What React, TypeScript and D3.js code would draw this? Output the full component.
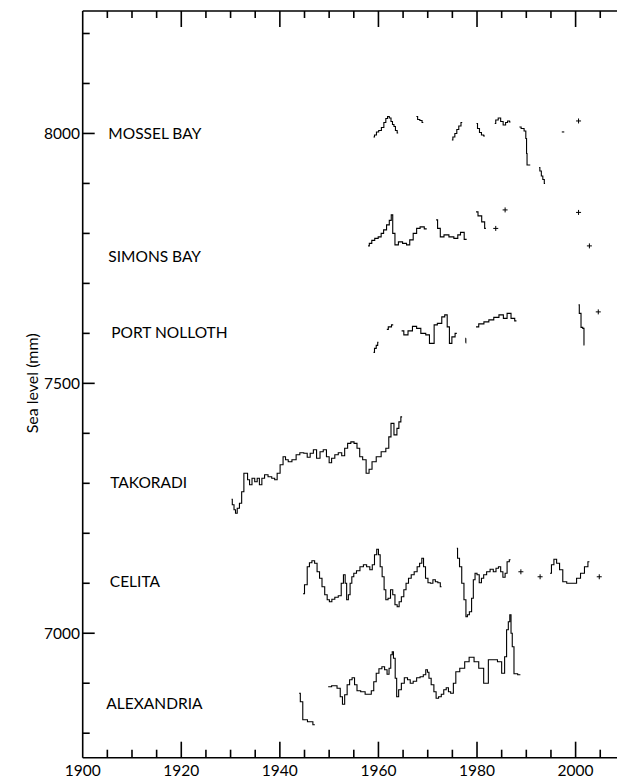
import { useEffect, useRef } from "react";
import * as d3 from "d3";

// [year, sea level mm] -- each inner array is a continuous piece of record
const mosselBay = [
  [[1959.0, 7993], [1959.4, 7997], [1959.8, 8003], [1960.3, 8006], [1960.9, 8012], [1961.3, 8022], [1961.7, 8030], [1962.0, 8034], [1962.4, 8031], [1962.7, 8024], [1963.0, 8018], [1963.3, 8014], [1963.6, 8006], [1964.0, 8001]],
  [[1967.7, 8034], [1968.2, 8028], [1968.6, 8026], [1969.1, 8022]],
  [[1974.9, 7987], [1975.3, 7993], [1975.7, 8000], [1976.1, 8008], [1976.5, 8015], [1977.0, 8022]],
  [[1979.9, 8020], [1980.3, 8010], [1980.7, 8002], [1981.1, 7997], [1981.6, 7995]],
  [[1983.6, 8020], [1984.0, 8027], [1984.6, 8031], [1985.0, 8024], [1985.6, 8017], [1986.0, 8022], [1986.4, 8025], [1986.8, 8023]],
  [[1988.6, 8013], [1989.3, 8010], [1989.8, 8005], [1990.0, 7990], [1990.1, 7960], [1990.2, 7937], [1990.8, 7937]],
  [[1992.6, 7932], [1992.9, 7925], [1993.2, 7915], [1993.5, 7908], [1993.8, 7900]],
  [[1997.2, 8003], [1997.7, 8003]],
];
const mosselBayPoints = [[2000.6, 8025]];

const simonsBay = [
  [[1957.9, 7775], [1958.4, 7780], [1958.9, 7786], [1959.6, 7790], [1960.3, 7793], [1960.8, 7800], [1961.3, 7807], [1962.0, 7817], [1962.4, 7826], [1962.8, 7837], [1963.0, 7800], [1963.7, 7777], [1964.4, 7783], [1965.4, 7780], [1966.0, 7777], [1966.7, 7787], [1967.4, 7800], [1968.1, 7810], [1968.8, 7813], [1969.8, 7809]],
  [[1971.7, 7827], [1972.3, 7810], [1972.8, 7793], [1973.8, 7797], [1974.8, 7793], [1975.8, 7790], [1976.4, 7797], [1976.9, 7802], [1977.9, 7788]],
  [[1979.8, 7843], [1980.6, 7835], [1981.3, 7823], [1981.8, 7810]],
];
const simonsBayPoints = [[1983.8, 7810], [1985.7, 7847], [2000.6, 7842], [2002.8, 7775]];

const portNolloth = [
  [[1959.0, 7562], [1959.4, 7570], [1959.7, 7576], [1960.0, 7582]],
  [[1961.7, 7608], [1962.3, 7613], [1963.0, 7617]],
  [[1964.7, 7605], [1965.6, 7597], [1966.4, 7605], [1967.4, 7614], [1968.1, 7610], [1969.1, 7600], [1970.1, 7597], [1970.6, 7580], [1971.2, 7580], [1971.4, 7617], [1972.5, 7620], [1973.2, 7633], [1973.7, 7637], [1974.2, 7613], [1974.6, 7580], [1975.2, 7593], [1975.9, 7600]],
  [[1977.7, 7581], [1977.75, 7590]],
  [[1979.8, 7613], [1980.9, 7619], [1981.9, 7623], [1982.9, 7627], [1983.9, 7632], [1985.0, 7637], [1985.7, 7630], [1986.5, 7640], [1987.3, 7630], [1988.0, 7625]],
  [[2000.6, 7657], [2000.9, 7640], [2001.3, 7612], [2001.6, 7610], [2001.8, 7577]],
];
const portNollothPoints = [[2004.6, 7643]];

const takoradi = [
  [[1930.2, 7268], [1930.5, 7257], [1930.9, 7247], [1931.1, 7240], [1931.6, 7250], [1932.0, 7260], [1932.5, 7283], [1932.9, 7320], [1933.3, 7320], [1933.6, 7307], [1934.1, 7297], [1934.6, 7310], [1935.2, 7303], [1935.6, 7310], [1936.1, 7297], [1936.6, 7310], [1937.2, 7317], [1938.0, 7313], [1938.7, 7310], [1939.2, 7307], [1939.7, 7320], [1940.4, 7337], [1940.9, 7353], [1941.4, 7347], [1942.0, 7343], [1942.9, 7347], [1943.7, 7357], [1944.4, 7361], [1945.3, 7360], [1945.8, 7352], [1946.5, 7360], [1947.1, 7367], [1947.8, 7350], [1948.5, 7363], [1949.1, 7367], [1949.8, 7353], [1950.2, 7341], [1950.8, 7350], [1951.5, 7357], [1952.2, 7361], [1952.9, 7355], [1953.4, 7370], [1954.1, 7380], [1954.7, 7383], [1955.4, 7380], [1955.9, 7370], [1956.5, 7353], [1957.1, 7347], [1957.9, 7320], [1958.3, 7328], [1959.1, 7343], [1960.0, 7353], [1961.1, 7363], [1961.9, 7370], [1962.3, 7393], [1962.8, 7420], [1963.5, 7397], [1964.0, 7410], [1964.3, 7423], [1964.8, 7433]],
];
const takoradiPoints: number[][] = [];

const celita = [
  [[1944.7, 7079], [1945.3, 7097], [1945.8, 7133], [1946.2, 7141], [1946.8, 7145], [1947.3, 7140], [1947.8, 7123], [1948.3, 7110], [1948.8, 7093], [1949.4, 7077], [1949.8, 7067], [1950.3, 7063], [1950.8, 7068], [1951.5, 7072], [1952.2, 7075], [1952.7, 7100], [1953.1, 7117], [1953.4, 7100], [1953.7, 7067], [1954.1, 7077], [1954.4, 7100], [1954.8, 7113], [1955.2, 7120], [1955.9, 7125], [1956.6, 7133], [1957.3, 7137], [1957.9, 7133], [1958.6, 7127], [1958.9, 7137], [1959.5, 7157], [1959.8, 7168], [1960.2, 7157], [1960.5, 7133], [1961.0, 7113], [1961.3, 7087], [1961.7, 7067], [1962.2, 7070], [1962.7, 7087], [1963.1, 7077], [1963.6, 7057], [1964.0, 7053], [1964.4, 7063], [1964.9, 7073], [1965.4, 7087], [1965.8, 7100], [1966.4, 7110], [1966.9, 7117], [1967.6, 7123], [1968.1, 7133], [1968.6, 7140], [1969.0, 7150], [1969.3, 7133], [1969.8, 7110], [1970.3, 7101], [1970.8, 7100], [1971.3, 7107], [1971.8, 7103], [1972.3, 7101], [1972.8, 7093]],
  [[1975.9, 7170], [1976.2, 7150], [1976.7, 7133], [1977.1, 7100], [1977.6, 7067], [1977.9, 7033], [1978.2, 7037], [1978.7, 7043], [1979.1, 7070], [1979.4, 7107], [1979.8, 7120], [1980.2, 7117], [1980.7, 7101], [1981.1, 7110], [1981.6, 7117], [1982.3, 7123], [1983.0, 7128], [1983.6, 7123], [1984.1, 7130], [1984.6, 7133], [1985.0, 7123], [1985.5, 7112], [1985.9, 7120], [1986.3, 7143], [1986.8, 7147]],
  [[1994.8, 7120], [1995.4, 7137], [1995.8, 7148], [1996.5, 7140], [1997.0, 7127], [1997.8, 7103], [1998.6, 7100], [1999.8, 7100], [2000.6, 7110], [2001.4, 7120], [2002.2, 7133], [2002.8, 7143]],
];
const celitaPoints = [[1988.9, 7123], [1992.8, 7113], [2004.8, 7113]];

const alexandria = [
  [[1943.9, 6880], [1944.4, 6863], [1944.9, 6827], [1946.3, 6823], [1947.1, 6817]],
  [[1949.8, 6893], [1951.2, 6895], [1952.0, 6890], [1952.5, 6873], [1952.9, 6858], [1953.4, 6877], [1953.9, 6897], [1954.4, 6907], [1954.9, 6911], [1955.4, 6897], [1955.9, 6885], [1956.9, 6883], [1957.7, 6878], [1958.3, 6878], [1958.8, 6885], [1959.3, 6903], [1959.8, 6920], [1960.4, 6929], [1961.0, 6933], [1961.5, 6927], [1962.0, 6918], [1962.3, 6930], [1962.7, 6957], [1962.9, 6963], [1963.2, 6950], [1963.6, 6910], [1963.8, 6873], [1964.4, 6887], [1964.9, 6900], [1965.6, 6911], [1966.2, 6907], [1966.7, 6900], [1967.4, 6904], [1968.1, 6911], [1968.8, 6913], [1969.4, 6917], [1969.8, 6927], [1970.1, 6922], [1970.4, 6910], [1971.0, 6897], [1971.5, 6883], [1971.9, 6870], [1972.5, 6873], [1973.0, 6878], [1973.5, 6887], [1974.0, 6891], [1974.4, 6883], [1974.9, 6880], [1975.5, 6900], [1975.9, 6923], [1977.1, 6930], [1977.9, 6943], [1978.9, 6952], [1979.9, 6943], [1980.8, 6930], [1981.9, 6900], [1982.7, 6947], [1983.7, 6947], [1984.6, 6943], [1985.4, 6920], [1985.8, 6953], [1986.2, 7007], [1986.5, 7023], [1986.8, 7037], [1987.0, 7000], [1987.3, 6973], [1987.7, 6919], [1988.8, 6917]],
];
const alexandriaPoints: number[][] = [];

// station label: name, year and level where the label sits
const stationNames = ["MOSSEL BAY", "SIMONS BAY", "PORT NOLLOTH", "TAKORADI", "CELITA", "ALEXANDRIA"];
const labelYears = [1905.2, 1905.2, 1905.8, 1905.6, 1905.5, 1904.8];
const labelLevels = [8000, 7755, 7603, 7303, 7105, 6861];
const stationSegments = [mosselBay, simonsBay, portNolloth, takoradi, celita, alexandria];
const stationPoints = [mosselBayPoints, simonsBayPoints, portNollothPoints, takoradiPoints, celitaPoints, alexandriaPoints];

const yTickLabels = [7000, 7500, 8000];
const xTickLabels = [1900, 1920, 1940, 1960, 1980, 2000];

const W = 617;
const H = 779;

const App = () => {
  const ref = useRef<SVGSVGElement>(null);

  useEffect(() => {
    const svg = d3.select(ref.current);
    svg.selectAll("*").remove();

    const x = d3.scaleLinear().domain([1900, 2008.4]).range([82.7, 617]);
    const y = d3.scaleLinear().domain([6751, 8245]).range([757.7, 11]);
    const font = "Lato, 'Open Sans', sans-serif";

    const g = svg.append("g");

    // axes
    const axisStroke = (sel: any) => sel.attr("stroke", "#000").attr("stroke-width", 1.6);
    g.append("line").attr("x1", x(1900)).attr("x2", W).attr("y1", y.range()[0]).attr("y2", y.range()[0]).call(axisStroke);
    g.append("line").attr("x1", x(1900)).attr("x2", W).attr("y1", y.range()[1]).attr("y2", y.range()[1]).call(axisStroke);
    g.append("line").attr("x1", x(1900)).attr("x2", x(1900)).attr("y1", y.range()[0]).attr("y2", y.range()[1]).call(axisStroke);

    const xTicks = d3.range(1905, 2008, 5);
    const isMajorX = (d: number) => d % 20 === 0;
    g.selectAll(".xb").data(xTicks).enter().append("line")
      .attr("x1", (d) => x(d)).attr("x2", (d) => x(d))
      .attr("y1", y.range()[0]).attr("y2", (d) => y.range()[0] - (isMajorX(d) ? 16 : 8))
      .call(axisStroke);
    g.selectAll(".xt").data(xTicks).enter().append("line")
      .attr("x1", (d) => x(d)).attr("x2", (d) => x(d))
      .attr("y1", y.range()[1]).attr("y2", (d) => y.range()[1] + (isMajorX(d) ? 16 : 7))
      .call(axisStroke);

    g.selectAll(".xl").data(xTickLabels).enter().append("text")
      .attr("x", (d) => x(d)).attr("y", 776)
      .attr("text-anchor", "middle")
      .style("font-family", font).style("font-size", "15.5px")
      .text((d) => d);

    const yTicks = d3.range(6800, 8201, 100);
    const isMajorY = (d: number) => d % 500 === 0;
    g.selectAll(".yt").data(yTicks).enter().append("line")
      .attr("x1", x(1900)).attr("x2", (d) => x(1900) + (isMajorY(d) ? 12 : 7))
      .attr("y1", (d) => y(d)).attr("y2", (d) => y(d))
      .call(axisStroke);

    g.selectAll(".yl").data(yTickLabels).enter().append("text")
      .attr("x", 80).attr("y", (d) => y(d))
      .attr("text-anchor", "end").attr("dominant-baseline", "central")
      .style("font-family", font).style("font-size", "15.5px")
      .text((d) => d);

    g.append("text")
      .attr("transform", `translate(31,${y(7500)}) rotate(-90)`)
      .attr("text-anchor", "middle").attr("dominant-baseline", "central")
      .style("font-family", font).style("font-size", "16px")
      .text("Sea level (mm)");

    // station labels
    g.selectAll(".sl").data(stationNames).enter().append("text")
      .attr("x", (d, i) => x(labelYears[i])).attr("y", (d, i) => y(labelLevels[i]))
      .attr("dominant-baseline", "central")
      .style("font-family", font).style("font-size", "15.5px")
      .text((d) => d);

    // records, drawn as stairs like monthly means
    const line = d3.line<number[]>()
      .x((d) => x(d[0]))
      .y((d) => y(d[1]))
      .curve(d3.curveStep);

    stationSegments.forEach((segs) => {
      g.append("g").selectAll("path").data(segs).enter().append("path")
        .attr("d", (d) => line(d))
        .attr("fill", "none")
        .attr("stroke", "#000")
        .attr("stroke-width", 1.1);
    });

    // isolated values drawn as small crosses
    stationPoints.forEach((pts) => {
      const pg = g.append("g");
      pts.forEach((p) => {
        const cx = x(p[0]);
        const cy = y(p[1]);
        pg.append("path")
          .attr("d", `M${cx - 2.5},${cy}H${cx + 2.5}M${cx},${cy - 2.5}V${cy + 2.5}`)
          .attr("stroke", "#000").attr("stroke-width", 1);
      });
    });
  }, []);

  return <svg ref={ref} width={W} height={H} style={{ display: "block", position: "absolute", left: 0, top: 0 }} />;
};

export default App;
